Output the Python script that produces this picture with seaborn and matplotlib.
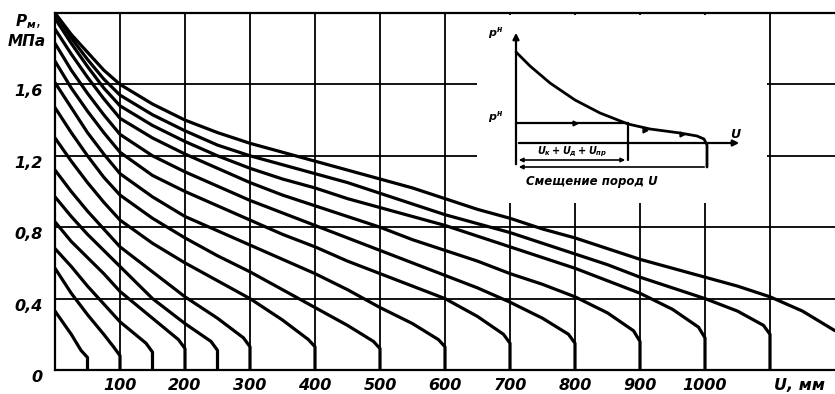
import numpy as np
import pandas as pd
import matplotlib
matplotlib.use("Agg")
import matplotlib.pyplot as plt
import seaborn as sns

# ---------------- data ----------------
U_GRID = [0, 25, 50, 75, 100, 150, 200, 250, 300, 350, 400, 450, 500, 550,
          600, 650, 700, 750, 800, 850, 900, 950, 1000, 1050, 1100, 1150, 1200]

curve_ends = [50, 100, 150, 200, 250, 300, 400, 500, 600, 700, 800, 900, 1000, 1100, 1200]

p_050 = [0.33, 0.20]
p_100 = [0.57, 0.43, 0.31, 0.20]
p_150 = [0.68, 0.58, 0.47, 0.37, 0.27]
p_200 = [0.83, 0.72, 0.63, 0.54, 0.44, 0.29]
p_250 = [0.97, 0.86, 0.76, 0.67, 0.58, 0.40, 0.26]
p_300 = [1.12, 1.00, 0.89, 0.79, 0.69, 0.55, 0.41, 0.29]
p_400 = [1.30, 1.17, 1.05, 0.94, 0.84, 0.71, 0.60, 0.50, 0.40, 0.28]
p_500 = [1.47, 1.33, 1.20, 1.08, 0.98, 0.85, 0.74, 0.64, 0.55, 0.45, 0.35, 0.25]
p_600 = [1.61, 1.47, 1.33, 1.21, 1.10, 0.97, 0.86, 0.78, 0.70, 0.62, 0.54, 0.45, 0.35, 0.26]
p_700 = [1.73, 1.58, 1.45, 1.33, 1.22, 1.09, 1.00, 0.92, 0.84, 0.76, 0.69, 0.61, 0.54,
         0.47, 0.40, 0.30]
p_800 = [1.83, 1.68, 1.55, 1.43, 1.32, 1.20, 1.11, 1.03, 0.95, 0.88, 0.81, 0.74, 0.67,
         0.60, 0.53, 0.46, 0.38, 0.29]
p_900 = [1.91, 1.77, 1.64, 1.52, 1.41, 1.30, 1.21, 1.13, 1.05, 0.98, 0.92, 0.86, 0.80,
         0.73, 0.67, 0.61, 0.54, 0.48, 0.41, 0.32]
p_1000 = [1.97, 1.83, 1.70, 1.58, 1.48, 1.37, 1.28, 1.20, 1.13, 1.07, 1.02, 0.96, 0.91,
          0.86, 0.81, 0.75, 0.69, 0.63, 0.57, 0.50, 0.43, 0.34]
p_1100 = [2.00, 1.86, 1.74, 1.63, 1.54, 1.43, 1.34, 1.26, 1.20, 1.15, 1.10, 1.05, 0.99,
          0.93, 0.87, 0.82, 0.77, 0.71, 0.65, 0.59, 0.52, 0.46, 0.40, 0.33]
p_1200 = [2.00, 1.88, 1.78, 1.68, 1.60, 1.49, 1.40, 1.33, 1.27, 1.22, 1.17, 1.12, 1.07,
          1.02, 0.96, 0.90, 0.85, 0.79, 0.74, 0.68, 0.62, 0.57, 0.52, 0.47, 0.41, 0.33, 0.22]

curve_values = [p_050, p_100, p_150, p_200, p_250, p_300, p_400, p_500, p_600,
                p_700, p_800, p_900, p_1000, p_1100, p_1200]
# value just before the knee (at end - 10 mm) and at the knee (at end)
lead_p = [0.11, 0.13, 0.15, 0.17, 0.16, 0.18, 0.17, 0.16, 0.17, 0.20, 0.20, 0.22, 0.24, 0.25, None]
knee_p = [0.07, 0.08, 0.10, 0.12, 0.11, 0.13, 0.13, 0.12, 0.13, 0.15, 0.15, 0.16, 0.18, 0.20, None]

x_ticks = [100, 200, 300, 400, 500, 600, 700, 800, 900, 1000, 1100]
x_tick_labels = ["100", "200", "300", "400", "500", "600", "700", "800", "900", "1000", ""]
y_ticks = [0, 0.4, 0.8, 1.2, 1.6]
y_tick_labels = ["0", "0,4", "0,8", "1,2", "1,6"]

# inset schematic (its own arbitrary units)
ins_curve_u = [0, 1.4, 3.4, 5.9, 8.4, 11.2, 13.4, 16.4, 18.1, 18.8, 19.1, 19.1]
ins_curve_p = [9.1, 7.7, 6.0, 4.3, 3.0, 1.9, 1.4, 1.0, 0.7, 0.4, -0.2, -2.4]
ins_pn = 2.0          # level p^н
ins_u_sum = 11.2      # U_k + U_d + U_pr
ins_u_total = 19.1    # total displacement U

# ---------------- build long table ----------------
rows = []
for cid, (end, vals, lp, kp) in enumerate(zip(curve_ends, curve_values, lead_p, knee_p)):
    us = U_GRID[:len(vals)]
    pts = list(zip(us, vals))
    if kp is not None:
        pts += [(end - 10, lp), (end, kp), (end, 0.0)]
    for order, (u, p) in enumerate(pts):
        rows.append({"curve": cid, "order": order, "U": u, "p": p})
df = pd.DataFrame(rows)

# ---------------- figure ----------------
sns.set_style("white")
plt.rcParams["font.family"] = ["DejaVu Sans"]
plt.rcParams["text.color"] = "black"
plt.rcParams["xtick.color"] = "black"
plt.rcParams["ytick.color"] = "black"
plt.rcParams["xtick.labelcolor"] = "black"
plt.rcParams["ytick.labelcolor"] = "black"
plt.rcParams["mathtext.fontset"] = "custom"
plt.rcParams["mathtext.it"] = "DejaVu Sans:italic:bold"
plt.rcParams["mathtext.rm"] = "DejaVu Sans:italic:bold"
plt.rcParams["mathtext.bf"] = "DejaVu Sans:italic:bold"

W, H = 835, 394
fig = plt.figure(figsize=(W / 100, H / 100), dpi=100)
ax = fig.add_axes([55 / W, 24 / H, 780 / W, 357 / H])

sns.lineplot(data=df, x="U", y="p", units="curve", estimator=None, sort=False,
             color="black", linewidth=2.3, ax=ax, legend=False)

ax.set_xlim(0, 1200)
ax.set_ylim(0, 2.0)
ax.set_xticks(x_ticks)
ax.set_xticklabels(x_tick_labels)
ax.set_yticks(y_ticks)
ax.set_yticklabels(y_tick_labels)
ax.set_xlabel("")
ax.set_ylabel("")
ax.grid(True, color="black", linewidth=1.3)
ax.tick_params(length=0, labelsize=11.5, labelcolor="black")
ax.tick_params(axis="x", pad=6)
ax.tick_params(axis="y", pad=9)
for t in ax.get_xticklabels() + ax.get_yticklabels():
    t.set_fontstyle("italic")
    t.set_fontweight("bold")
    t.set_color("black")
for t in ax.get_yticklabels():
    t.set_va("top")

for side in ["left", "bottom", "top"]:
    ax.spines[side].set_visible(True)
    ax.spines[side].set_color("black")
    ax.spines[side].set_linewidth(1.6)
ax.spines["right"].set_visible(False)

fig.text(800 / W, 1 - 386 / H, "U, мм", fontsize=11.5, fontstyle="italic",
         fontweight="bold", ha="center", va="center", color="black")
fig.text(28 / W, 1 - 22 / H, r"$P_{м}$,", fontsize=11, ha="center", va="center",
         color="black")
fig.text(27 / W, 1 - 42 / H, "МПа", fontsize=11, fontstyle="italic",
         fontweight="bold", ha="center", va="center", color="black")

# ---------------- inset schematic ----------------
ax_in = fig.add_axes([477 / W, 1 - 203 / H, (767 - 477) / W, (203 - 15) / H])
ax_in.set_facecolor("white")
for s in ax_in.spines.values():
    s.set_visible(False)
ax_in.set_xticks([])
ax_in.set_yticks([])
ax_in.set_xlim(-3.9, 25.1)
ax_in.set_ylim(-6.0, 12.8)

lw_in = 1.6
ax_in.plot(ins_curve_u, ins_curve_p, color="black", lw=2.0)
ax_in.annotate("", xy=(0, 11.3), xytext=(0, -2.4),
               arrowprops=dict(arrowstyle="-|>", lw=lw_in, color="black", mutation_scale=9))
ax_in.annotate("", xy=(22.6, 0), xytext=(0, 0),
               arrowprops=dict(arrowstyle="-|>", lw=lw_in, color="black", mutation_scale=9))
ax_in.plot([0, ins_u_sum], [ins_pn, ins_pn], color="black", lw=lw_in)
ax_in.plot([ins_u_sum, ins_u_sum], [ins_pn, -1.7], color="black", lw=lw_in)
ax_in.annotate("", xy=(ins_u_sum, -1.7), xytext=(0, -1.7),
               arrowprops=dict(arrowstyle="<|-|>", lw=1.2, color="black", mutation_scale=6))
ax_in.annotate("", xy=(0, -2.4), xytext=(ins_u_total, -2.4),
               arrowprops=dict(arrowstyle="-|>", lw=1.2, color="black", mutation_scale=6))
ax_in.plot([5.9, 12.9, 16.6], [ins_pn, 1.3, 0.95], ls="none", marker=">",
           color="black", ms=3.5)

tkw = dict(fontstyle="italic", fontweight="bold", color="black")
ax_in.text(-1.2, 11.0, r"$p^{н}$", fontsize=8, ha="right", va="center", color="black")
ax_in.text(-1.2, 2.6, r"$p^{н}$", fontsize=8, ha="right", va="center", color="black")
ax_in.text(21.4, 0.8, "U", fontsize=9, ha="left", va="center", **tkw)
ax_in.text(5.6, -0.85, r"$U_{к} + U_{д} + U_{пр}$", fontsize=7, ha="center", va="center",
           color="black")
ax_in.text(7.6, -3.9, "Смещение пород U", fontsize=8.5, ha="center", va="center", **tkw)

fig.savefig("out.png", dpi=100, facecolor="white")
